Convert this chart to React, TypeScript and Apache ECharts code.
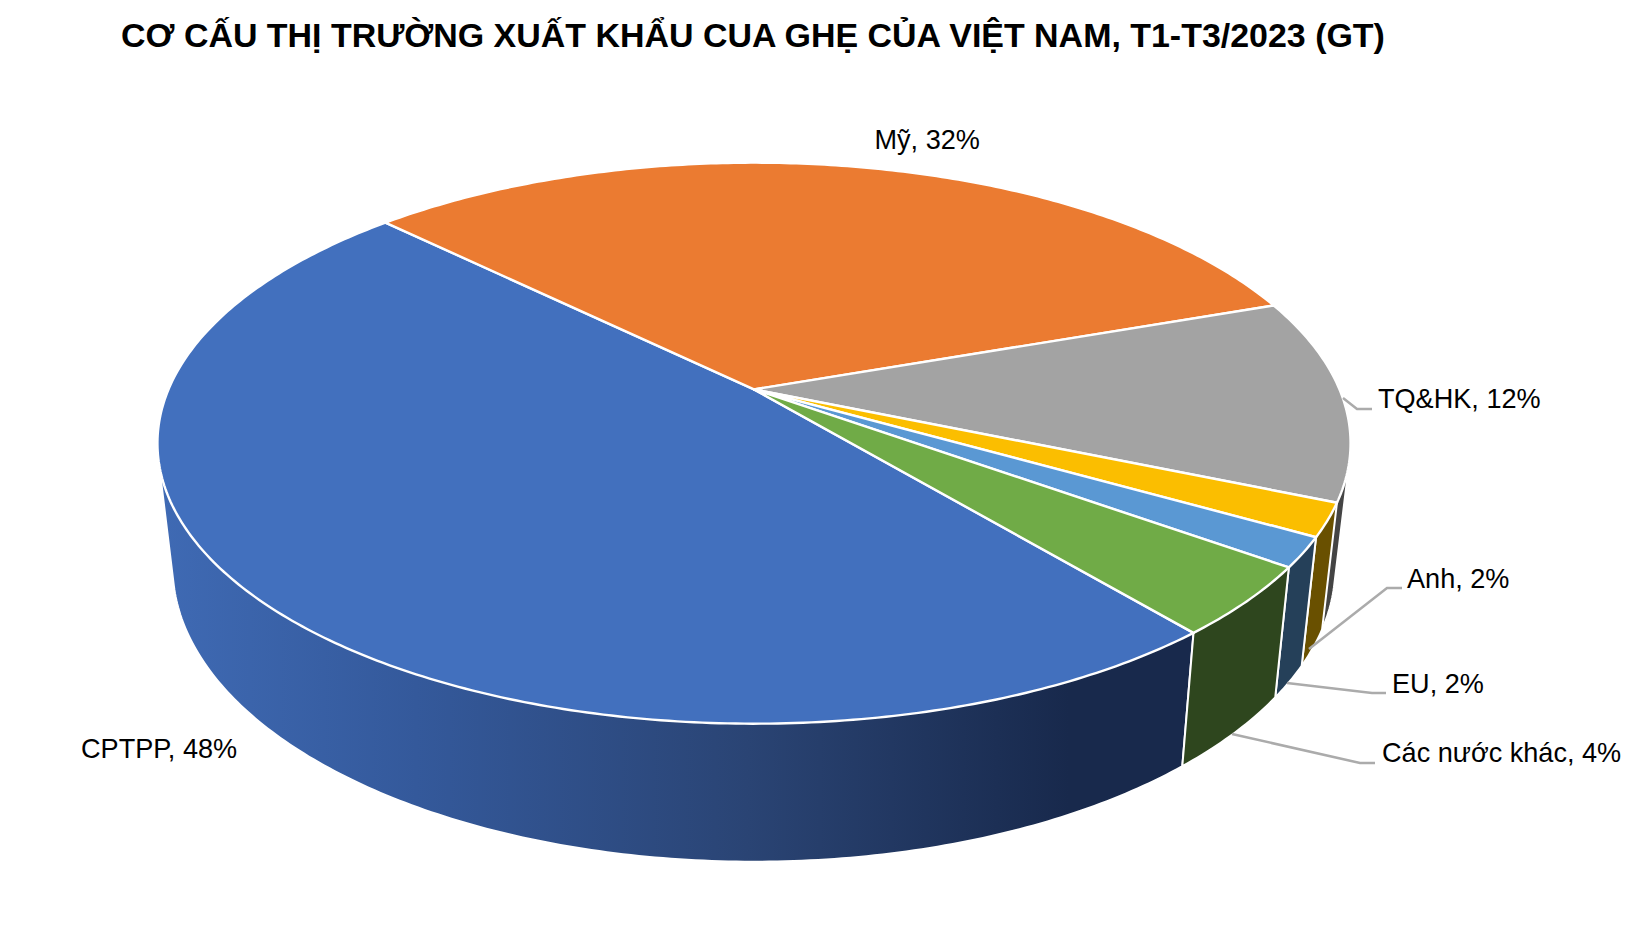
import React, { useEffect, useRef } from "react";
import * as echarts from "echarts";

const titleText = "CƠ CẤU THỊ TRƯỜNG XUẤT KHẨU CUA GHẸ CỦA VIỆT NAM, T1-T3/2023 (GT)";
const categories = ["CPTPP", "Mỹ", "TQ&HK", "Anh", "EU", "Các nước khác"];
const shareValues = [48.4, 32.3, 11.7, 1.9, 1.7, 4.0];
const topColors = ["#4270BE", "#EB7B31", "#A3A3A3", "#FBBE00", "#5A98D3", "#70AB47"];
const sideColors = ["#1a2c50", "#6b3a14", "#444444", "#695000", "#254059", "#2e461e"];

// projection of the pie disc (perspective view)
const CX = 754, APEX_Y = 389.4, AX = 585.5, BY = 270.2, K = 0.1917;
const BOTTOM_SCALE_X = 0.9745, DEPTH_FRONT = 138, DEPTH_SLOPE = 0.051, FRONT_Y = 723;
const START_DEG = 140.2;

const labelLayout = [
  { x: 81, y: 748, line: null },
  { x: 874.5, y: 139, line: null },
  { x: 1378, y: 398, line: [[1343, 398], [1357, 409], [1372, 409]] },
  { x: 1407, y: 578, line: [[1309, 649], [1387, 588], [1402, 588]] },
  { x: 1392, y: 683, line: [[1287, 683], [1372, 693], [1386, 693]] },
  { x: 1382, y: 752, line: [[1232, 734], [1360, 763], [1375, 763]] },
];

const total = shareValues.reduce((a, b) => a + b, 0);

function angleRange(i: number) {
  let before = 0;
  for (let j = 0; j < i; j++) before += shareValues[j];
  const a0 = START_DEG + (before / total) * 360;
  const a1 = a0 + (shareValues[i] / total) * 360;
  return [a0, a1];
}

function topPoint(deg: number) {
  const t = (deg * Math.PI) / 180;
  const u = Math.sin(t);
  const v = -Math.cos(t);
  const w = 1 - K * v;
  return [CX + (AX * u) / w, APEX_Y + (BY * v) / w];
}

function bottomPoint(deg: number) {
  const p = topPoint(deg);
  return [
    CX + BOTTOM_SCALE_X * (p[0] - CX),
    p[1] + DEPTH_FRONT + DEPTH_SLOPE * (p[1] - FRONT_Y),
  ];
}

function arc(i: number, fn: (d: number) => number[]) {
  const [a0, a1] = angleRange(i);
  const n = Math.max(6, Math.ceil((a1 - a0) * 1.5));
  const pts: number[][] = [];
  for (let s = 0; s <= n; s++) pts.push(fn(a0 + ((a1 - a0) * s) / n));
  return pts;
}

// outline of the wall of a slice: everything swept between its top and bottom arcs
function hull(points: number[][]) {
  const pts = points.slice().sort((a, b) => a[0] - b[0] || a[1] - b[1]);
  const cross = (o: number[], a: number[], b: number[]) =>
    (a[0] - o[0]) * (b[1] - o[1]) - (a[1] - o[1]) * (b[0] - o[0]);
  const half = (list: number[][]) => {
    const h: number[][] = [];
    for (const p of list) {
      while (h.length >= 2 && cross(h[h.length - 2], h[h.length - 1], p) <= 0) h.pop();
      h.push(p);
    }
    h.pop();
    return h;
  };
  return half(pts).concat(half(pts.slice().reverse()));
}

const renderSide = (_p: any, api: any) => {
  const i = api.value(0);
  const fill =
    i === 0
      ? new echarts.graphic.LinearGradient(0, 0, 1, 0, [
          { offset: 0, color: "#3F6AB4" },
          { offset: 0.25, color: "#34599b" },
          { offset: 0.57, color: "#2a4474" },
          { offset: 0.88, color: "#18294c" },
          { offset: 1, color: "#18294c" },
        ])
      : sideColors[i];
  return {
    type: "polygon",
    shape: { points: hull(arc(i, topPoint).concat(arc(i, bottomPoint))) },
    style: { fill, stroke: "#fff", lineWidth: 2, lineJoin: "round" },
  };
};

const renderTop = (_p: any, api: any) => {
  const i = api.value(0);
  return {
    type: "polygon",
    shape: { points: [[CX, APEX_Y]].concat(arc(i, topPoint)) },
    style: { fill: topColors[i], stroke: "#fff", lineWidth: 2.4, lineJoin: "round" },
  };
};

const renderLabel = (_p: any, api: any) => {
  const i = api.value(0);
  const l = labelLayout[i];
  const children: any[] = [];
  if (l.line) {
    children.push({
      type: "polyline",
      shape: { points: l.line },
      style: { fill: "none", stroke: "#ABABAB", lineWidth: 2.5 },
    });
  }
  children.push({
    type: "text",
    style: {
      text: `${categories[i]}, ${Math.round(api.value(1))}%`,
      x: l.x,
      y: l.y,
      fill: "#000",
      fontSize: 27.1,
      fontFamily: "Liberation Sans",
      verticalAlign: "middle",
      align: "left",
    },
  });
  return { type: "group", children };
};

export default function App() {
  const ref = useRef<HTMLDivElement>(null);
  useEffect(() => {
    const chart = echarts.init(ref.current!, undefined, { renderer: "svg" });
    const data = shareValues.map((v, i) => [i, v]);
    chart.setOption({
      animation: false,
      backgroundColor: "#fff",
      title: {
        text: titleText,
        left: 116,
        top: 13,
        textStyle: { fontSize: 33.95, fontWeight: "bold", fontFamily: "Liberation Sans", color: "#000" },
      },
      series: [
        { type: "custom", coordinateSystem: "none", renderItem: renderSide, data, silent: true },
        { type: "custom", coordinateSystem: "none", renderItem: renderTop, data, silent: true },
        { type: "custom", coordinateSystem: "none", renderItem: renderLabel, data, silent: true },
      ],
    });
    return () => chart.dispose();
  }, []);
  return <div ref={ref} style={{ position: "absolute", left: 0, top: 0, width: 1650, height: 938 }} />;
}
